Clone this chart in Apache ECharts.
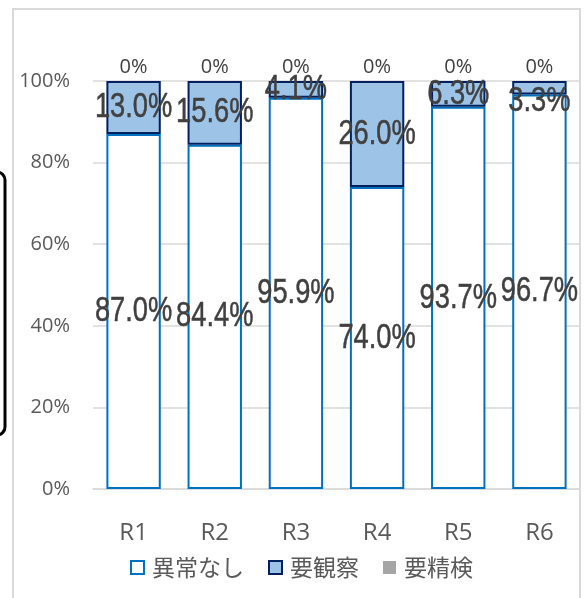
<!DOCTYPE html>
<html><head><meta charset="utf-8">
<script src="https://cdn.jsdelivr.net/npm/echarts@6/dist/echarts.min.js"></script>
<style>html,body{margin:0;padding:0;background:#fff}#c{width:587px;height:598px}</style>
</head><body><div id="c"></div>
<script>
const categories = ['R1','R2','R3','R4','R5','R6'];
const normal = [87.0, 84.4, 95.9, 74.0, 93.7, 96.7];
const observe = [13.0, 15.6, 4.1, 26.0, 6.3, 3.3];
const detail = [0, 0, 0, 0, 0, 0];
const seriesNames = ['異常なし','要観察','要精検'];

const bigFont = "'Liberation Sans',Arial,sans-serif";
const uiFont = "'Open Sans','Noto Sans',sans-serif";
const observeLabelShift = {5: 14};

// label records: [categoryIndex, lower, upper, text, pixelShift]
const labelData = [];
normal.forEach((v,i)=>labelData.push([i, 0, v, v.toFixed(1)+'%', 0]));
observe.forEach((v,i)=>labelData.push([i, normal[i], normal[i]+v, v.toFixed(1)+'%', observeLabelShift[i]||0]));

const chart = echarts.init(document.getElementById('c'), null, {renderer:'canvas'});
chart.setOption({
  animation:false,
  backgroundColor:'#fff',
  grid:{left:93, right:7, top:81, bottom:109},
  graphic:[
    {type:'rect', shape:{x:13, y:9, width:567, height:620}, style:{fill:'none', stroke:'#d9d9d9', lineWidth:2}, z:-10},
    {type:'rect', shape:{x:-20, y:172, width:25, height:263, r:8}, style:{fill:'none', stroke:'#000', lineWidth:3}, z:10}
  ],
  legend:{
    top:551, left:125, itemWidth:13, itemHeight:13, itemGap:24,
    icon:'rect',
    textStyle:{fontSize:23, color:'#595959', fontFamily:"'Noto Sans CJK JP',sans-serif", padding:[0,0,0,3]},
    data:seriesNames
  },
  xAxis:{
    type:'category', data:categories,
    axisLine:{lineStyle:{color:'#d9d9d9', width:1.5}},
    axisTick:{show:false},
    axisLabel:{fontSize:24, color:'#595959', margin:32, fontFamily:uiFont}
  },
  yAxis:{
    type:'value', min:0, max:100, interval:20,
    axisLine:{show:false}, axisTick:{show:false},
    splitLine:{lineStyle:{color:'#d9d9d9', width:1.5}},
    axisLabel:{fontSize:20, color:'#595959', margin:23, formatter:v=>v+'%', fontFamily:uiFont}
  },
  series:[
    {name:seriesNames[0], type:'bar', stack:'s', barWidth:'67%',
     data:normal,
     itemStyle:{color:'#ffffff', borderColor:'#0070C0', borderWidth:2}},
    {name:seriesNames[1], type:'bar', stack:'s',
     data:observe,
     itemStyle:{color:'#9DC3E6', borderColor:'#002060', borderWidth:2}},
    {name:seriesNames[2], type:'bar', stack:'s',
     data:detail,
     itemStyle:{color:'#A5A5A5'},
     label:{show:true, position:'top', distance:4, formatter:p=>p.value+'%', fontSize:20, color:'#404040', fontFamily:uiFont}},
    {name:'labels', type:'custom', z:20, silent:true,
     data:labelData,
     encode:{x:0, y:[1,2]},
     renderItem:(params, api)=>{
       const i = api.value(0), lo = api.value(1), hi = api.value(2);
       const p = api.coord([i, (lo+hi)/2]);
       return {type:'text', x:p[0], y:p[1] + api.value(4), scaleX:0.78,
         style:{text:labelData[params.dataIndex][3], x:0, y:0, fontSize:35, fontFamily:bigFont,
                fill:'#404040', stroke:'#404040', lineWidth:0.5, align:'center', verticalAlign:'middle'}};
     }}
  ]
});
</script></body></html>
